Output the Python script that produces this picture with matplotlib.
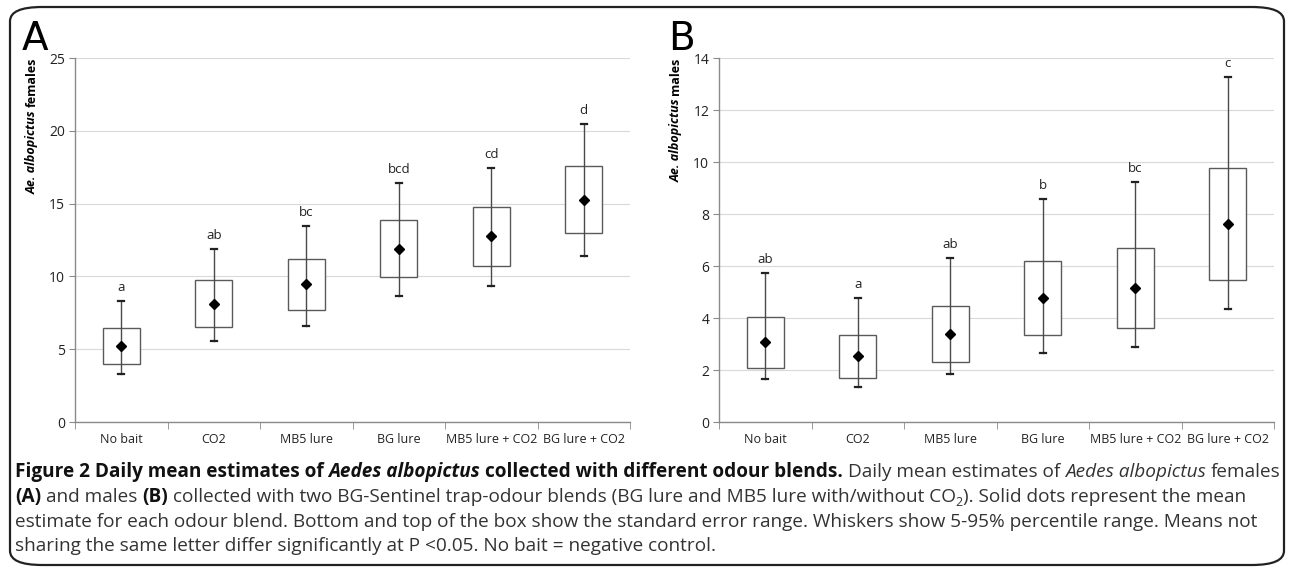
import matplotlib
matplotlib.use('Agg')
import matplotlib.pyplot as plt
from matplotlib.patches import FancyBboxPatch, Rectangle
import numpy as np

categories = ['No bait', 'CO2', 'MB5 lure', 'BG lure', 'MB5 lure + CO2', 'BG lure + CO2']

# panel A - females
fem_mean = [5.2, 8.1, 9.45, 11.9, 12.75, 15.25]
fem_se_lo = [4.0, 6.55, 7.72, 9.94, 10.72, 13.0]
fem_se_hi = [6.44, 9.72, 11.18, 13.84, 14.8, 17.55]
fem_p5 = [3.3, 5.57, 6.62, 8.62, 9.35, 11.41]
fem_p95 = [8.3, 11.89, 13.47, 16.43, 17.46, 20.44]
fem_letters = ['a', 'ab', 'bc', 'bcd', 'cd', 'd']

# panel B - males
mal_mean = [3.06, 2.52, 3.4, 4.76, 5.16, 7.6]
mal_se_lo = [2.08, 1.7, 2.32, 3.34, 3.62, 5.45]
mal_se_hi = [4.04, 3.34, 4.48, 6.2, 6.7, 9.77]
mal_p5 = [1.65, 1.34, 1.83, 2.67, 2.88, 4.36]
mal_p95 = [5.73, 4.77, 6.32, 8.58, 9.25, 13.26]
mal_letters = ['ab', 'a', 'ab', 'b', 'bc', 'c']

W, H = 1290, 568
fig = plt.figure(figsize=(W / 100, H / 100), dpi=100)
TICKFONT = 'Open Sans'


def panel(rect, mean, lo, hi, p5, p95, letters, ymax, ystep, label_word, letter, letter_x, ylab_x):
    ax = fig.add_axes(rect)
    x = np.arange(len(categories))
    for i in x:
        ax.add_patch(Rectangle((i - 0.2, lo[i]), 0.4, hi[i] - lo[i], facecolor='white',
                               edgecolor='#5a5a5a', lw=1.0, zorder=2))
        ax.plot([i, i], [p5[i], p95[i]], color='#4a4a4a', lw=1.0, zorder=3)
        ax.plot([i - 0.035, i + 0.035], [p5[i], p5[i]], color='#222222', lw=1.6, zorder=3)
        ax.plot([i - 0.035, i + 0.035], [p95[i], p95[i]], color='#222222', lw=1.6, zorder=3)
        ax.annotate(letters[i], (i, p95[i]), xytext=(0, 5), textcoords='offset points',
                    ha='center', va='bottom', fontsize=9.5, family=TICKFONT, color='#222222')
    ax.plot(x, mean, 'D', color='black', ms=5.5, zorder=4)
    ax.set_xlim(-0.5, len(categories) - 0.5)
    ax.set_ylim(0, ymax)
    ax.set_yticks(np.arange(0, ymax + 0.01, ystep))
    ax.set_xticks(x)
    ax.set_xticklabels(categories, fontsize=9, family=TICKFONT, color='#222222')
    ax.set_xticks(np.arange(-0.5, len(categories)), minor=True)
    ax.tick_params(axis='x', which='major', length=0, pad=8)
    ax.tick_params(axis='x', which='minor', length=5, color='#8a8a8a', direction='out')
    ax.tick_params(axis='y', length=4, color='#8a8a8a', labelsize=10, labelcolor='#222222', pad=3)
    for t in ax.get_yticklabels():
        t.set_family(TICKFONT)
    ax.grid(axis='y', color='#d9d9d9', lw=0.8)
    ax.set_axisbelow(True)
    for s in ['top', 'right']:
        ax.spines[s].set_visible(False)
    for s in ['left', 'bottom']:
        ax.spines[s].set_color('#8a8a8a')
        ax.spines[s].set_linewidth(1.0)
    fig.text(letter_x / W, 1 - 50 / H, letter, fontsize=28, family='DejaVu Sans', va='baseline')
    # rotated y label with bold-italic species name
    r = fig.canvas.get_renderer()
    t1 = fig.text(ylab_x / W, 1 - 58 / H, label_word, rotation=90, fontsize=9, weight='bold',
                  family=TICKFONT, ha='center', va='top')
    h1 = t1.get_window_extent(r).height
    fig.text(ylab_x / W, 1 - (58 + h1 + 3) / H, 'Ae. albopictus', rotation=90, fontsize=9,
             weight='bold', style='italic', family=TICKFONT, ha='center', va='top')
    return ax


panel([75 / W, 1 - 422 / H, 555 / W, 364 / H], fem_mean, fem_se_lo, fem_se_hi, fem_p5, fem_p95,
      fem_letters, 25, 5, 'females', 'A', 22, 32)
panel([719 / W, 1 - 422 / H, 555 / W, 364 / H], mal_mean, mal_se_lo, mal_se_hi, mal_p5, mal_p95,
      mal_letters, 14, 2, 'males', 'B', 668, 676)

# rounded border around the whole figure
fig.patches.append(FancyBboxPatch((10 / W, 3 / H), 1 - 16 / W, 1 - 10 / H,
                                  boxstyle='round,pad=0,rounding_size=0.025',
                                  transform=fig.transFigure, facecolor='none',
                                  edgecolor='#222222', lw=1.6))

# caption with mixed styles
cap1 = [('Figure 2 Daily mean estimates of', 'bold', 'normal'),
        ('Aedes albopictus', 'bold', 'italic'),
        ('collected with different odour blends.', 'bold', 'normal'),
        ('Daily mean estimates of', 'normal', 'normal'),
        ('Aedes albopictus', 'normal', 'italic'),
        ('females', 'normal', 'normal')]
cap2 = [('(A)', 'bold', 'normal'),
        ('and males', 'normal', 'normal'),
        ('(B)', 'bold', 'normal'),
        ('collected with two BG-Sentinel trap-odour blends (BG lure and MB5 lure with/without CO', 'normal', 'normal'),
        ('2', 'normal', 'sub'),
        ('). Solid dots represent the mean', 'normal', 'joined')]
cap3 = [('estimate for each odour blend. Bottom and top of the box show the standard error range. '
         'Whiskers show 5-95% percentile range. Means not', 'normal', 'normal')]
cap4 = [('sharing the same letter differ significantly at P <0.05. No bait = negative control.', 'normal', 'normal')]

CAPFONT = 'Open Sans'
renderer = fig.canvas.get_renderer()


def width_px(s, size, weight='normal', style='normal'):
    t = fig.text(0, 0, s, fontsize=size, weight=weight, style=style, family=CAPFONT)
    w = t.get_window_extent(renderer).width
    t.remove()
    return w


def draw_line(pieces, x0, ybase, size, dry=False):
    space = width_px('a a', size) - width_px('aa', size)
    x = x0
    for k, (s, weight, style) in enumerate(pieces):
        fs = size
        dy = 0
        st = style
        if style == 'sub':
            fs = size * 0.65
            dy = -4
            st = 'normal'
        elif style == 'joined':
            st = 'normal'
        elif k > 0:
            x += space
        if dry:
            x += width_px(s, fs, weight, st)
            continue
        t = fig.text(x / W, 1 - (ybase - dy) / H, s, fontsize=fs, weight=weight, style=st,
                     family=CAPFONT, va='baseline', color='#333333' if weight == 'normal' else '#111111')
        x += t.get_window_extent(renderer).width
    return x - x0


base = 12.0
w1 = draw_line(cap1, 0, 0, base, dry=True)
capsize = base * 1262 / w1
draw_line(cap1, 15, 477, capsize)
draw_line(cap2, 15, 502, capsize)
draw_line(cap3, 15, 527, capsize)
draw_line(cap4, 15, 551, capsize)

fig.savefig('out.png', dpi=100)
